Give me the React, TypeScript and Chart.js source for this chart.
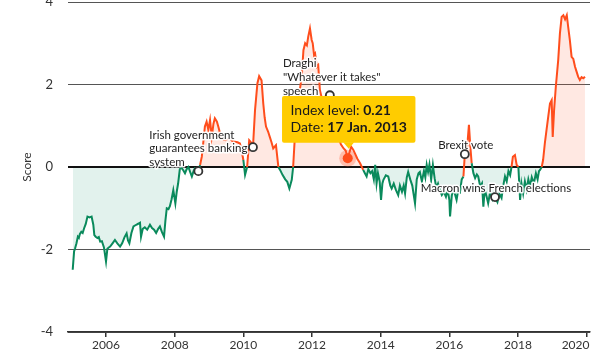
import React, { useEffect, useRef } from "react";
import { Chart, registerables } from "chart.js";

Chart.register(...registerables);

// ---- data ----
const dates = [
  2005.03, 2005.07, 2005.10, 2005.14, 2005.18, 2005.21, 2005.24, 2005.28, 2005.32, 2005.36,
  2005.41, 2005.46, 2005.52, 2005.58, 2005.63, 2005.66, 2005.70, 2005.75, 2005.79, 2005.83,
  2005.88, 2005.94, 2006.00, 2006.04, 2006.08, 2006.12, 2006.19, 2006.26, 2006.33, 2006.41,
  2006.47, 2006.54, 2006.60, 2006.64, 2006.68, 2006.74, 2006.80, 2006.88, 2006.95, 2006.99,
  2007.02, 2007.07, 2007.13, 2007.20, 2007.28, 2007.34, 2007.40, 2007.46, 2007.52, 2007.57,
  2007.63, 2007.69, 2007.73, 2007.77, 2007.82, 2007.86, 2007.91, 2007.96, 2008.02, 2008.06,
  2008.10, 2008.15, 2008.20, 2008.25, 2008.30, 2008.35, 2008.40, 2008.45, 2008.50, 2008.55,
  2008.59, 2008.64, 2008.69, 2008.74, 2008.79, 2008.83, 2008.88, 2008.93, 2008.98, 2009.03,
  2009.08, 2009.13, 2009.17, 2009.23, 2009.28, 2009.32, 2009.37, 2009.47, 2009.54, 2009.61,
  2009.68, 2009.76, 2009.83, 2009.90, 2009.95, 2010.00, 2010.05, 2010.11, 2010.17, 2010.22,
  2010.28, 2010.34, 2010.41, 2010.46, 2010.53, 2010.58, 2010.62, 2010.66, 2010.72, 2010.77,
  2010.82, 2010.87, 2010.95, 2011.02, 2011.07, 2011.14, 2011.22, 2011.28, 2011.34, 2011.38,
  2011.41, 2011.45, 2011.50, 2011.55, 2011.60, 2011.65, 2011.70, 2011.75, 2011.80, 2011.85,
  2011.89, 2011.94, 2011.99, 2012.02, 2012.06, 2012.09, 2012.14, 2012.18, 2012.23, 2012.30,
  2012.38, 2012.45, 2012.52, 2012.60, 2012.68, 2012.76, 2012.84, 2012.92, 2012.98, 2013.04,
  2013.09, 2013.14, 2013.20, 2013.25, 2013.32, 2013.40, 2013.49, 2013.54, 2013.59, 2013.64,
  2013.70, 2013.75, 2013.80, 2013.84, 2013.88, 2013.92, 2013.97, 2014.01, 2014.05, 2014.08,
  2014.15, 2014.22, 2014.28, 2014.32, 2014.38, 2014.44, 2014.51, 2014.56, 2014.62, 2014.67,
  2014.71, 2014.76, 2014.80, 2014.86, 2014.92, 2015.00, 2015.05, 2015.10, 2015.14, 2015.20,
  2015.26, 2015.30, 2015.34, 2015.38, 2015.42, 2015.47, 2015.52, 2015.57, 2015.62, 2015.67,
  2015.72, 2015.78, 2015.84, 2015.90, 2015.95, 2016.00, 2016.02, 2016.07, 2016.11, 2016.16,
  2016.21, 2016.26, 2016.31, 2016.36, 2016.41, 2016.45, 2016.51, 2016.57, 2016.61, 2016.65,
  2016.70, 2016.75, 2016.80, 2016.84, 2016.90, 2016.95, 2016.99, 2017.03, 2017.08, 2017.13,
  2017.19, 2017.26, 2017.33, 2017.40, 2017.46, 2017.52, 2017.57, 2017.62, 2017.67, 2017.72,
  2017.77, 2017.81, 2017.85, 2017.91, 2017.96, 2018.01, 2018.06, 2018.10, 2018.15, 2018.20,
  2018.25, 2018.30, 2018.35, 2018.40, 2018.46, 2018.52, 2018.57, 2018.61, 2018.64, 2018.69,
  2018.73, 2018.78, 2018.83, 2018.88, 2018.93, 2018.98, 2019.01, 2019.05, 2019.10, 2019.17,
  2019.22, 2019.27, 2019.32, 2019.37, 2019.42, 2019.46, 2019.51, 2019.56, 2019.61, 2019.66,
  2019.71, 2019.75, 2019.80, 2019.85, 2019.90, 2019.95,
];

const values = [
  -2.49, -2.05, -1.97, -1.85, -1.69, -1.72, -1.62, -1.57, -1.60, -1.49,
  -1.38, -1.20, -1.22, -1.20, -1.40, -1.65, -1.69, -1.72, -1.70, -1.81,
  -1.80, -1.95, -2.29, -1.98, -1.95, -1.93, -1.85, -1.77, -1.85, -1.93,
  -1.85, -1.70, -1.61, -1.78, -1.85, -1.60, -1.44, -1.40, -1.37, -1.35,
  -1.69, -1.50, -1.46, -1.52, -1.40, -1.48, -1.52, -1.60, -1.50, -1.44,
  -1.58, -1.69, -1.30, -1.00, -1.02, -0.95, -0.78, -0.56, -0.88, -0.60,
  -0.40, -0.05, -0.02, -0.08, -0.15, -0.05, 0.00, -0.12, -0.23, -0.10,
  -0.03, -0.06, -0.10, 0.05, 0.25, 0.57, 0.98, 1.10, 0.90, 1.14,
  0.73, 1.05, 1.18, 1.10, 0.95, 0.82, 0.69, 0.65, 0.68, 0.69,
  0.63, 0.61, 0.60, 0.57, 0.40, 0.17, -0.19, 0.00, 0.65, 0.60,
  0.48, 1.38, 2.03, 2.20, 2.10, 1.54, 1.20, 0.98, 0.86, 0.73,
  0.60, 0.45, 0.53, 0.00, -0.07, -0.19, -0.30, -0.36, -0.52, -0.40,
  -0.31, 0.00, 0.73, 1.22, 1.62, 1.90, 2.19, 2.83, 3.00, 2.95,
  3.16, 3.36, 3.08, 3.00, 2.71, 2.75, 2.43, 2.47, 1.86, 1.62,
  1.70, 1.78, 1.74, 1.35, 1.00, 0.75, 0.55, 0.45, 0.40, 0.21,
  0.35, 0.49, 0.42, 0.33, 0.20, 0.09, -0.07, -0.15, -0.23, -0.05,
  -0.15, -0.10, -0.30, 0.05, -0.40, -0.15, -0.35, -0.80, -0.40, -0.31,
  -0.20, -0.23, -0.45, -0.52, -0.40, -0.55, -0.68, -0.45, -0.60, -0.45,
  -0.64, -0.25, -0.12, -0.30, -0.45, -0.88, -0.30, -0.15, -0.12, -0.35,
  -0.10, -0.25, 0.05, -0.12, 0.06, -0.31, 0.05, -0.27, -0.50, -0.40,
  -0.55, -0.68, -0.60, -0.72, -0.55, -0.80, -1.20, -0.70, -0.56, -0.65,
  -0.80, -0.55, -0.60, -0.30, -0.23, 0.31, 0.40, 1.02, 0.50, 0.09,
  -0.15, -0.27, -0.18, -0.23, -0.48, -0.40, -0.96, -0.55, -0.70, -0.88,
  -0.60, -0.80, -0.73, -0.85, -0.65, -0.75, -0.45, -0.23, -0.35, -0.10,
  -0.20, 0.00, 0.25, 0.29, 0.05, 0.00, -0.80, -0.40, -0.64, -0.35,
  -0.55, -0.30, -0.48, -0.25, -0.40, -0.15, -0.30, -0.10, -0.07, 0.00,
  0.17, 0.57, 0.90, 1.22, 1.54, 1.62, 0.73, 1.38, 1.94, 2.59,
  3.24, 3.64, 3.68, 3.58, 3.68, 3.40, 3.07, 2.67, 2.62, 2.43,
  2.30, 2.19, 2.11, 2.18, 2.15, 2.19,
];

const xTickYears = [2006, 2008, 2010, 2012, 2014, 2016, 2018, 2020];
const yTickValues = [-4, -2, 0, 2, 4];
const yAxisTitle = "Score";

const eventDates = [2008.69, 2010.28, 2012.52, 2016.45, 2017.33];
const eventValues = [-0.1, 0.48, 1.74, 0.31, -0.73];
const eventLabels: string[][] = [
  ["Irish government", "guarantees banking", "system"],
  [],
  ["Draghi", "\"Whatever it takes\"", "speech"],
  ["Brexit vote"],
  ["Macron wins French elections"],
];

const tooltipDate = 2013.04;
const tooltipValue = 0.21;
const tooltipDateLabel = "17 Jan. 2013";

// ---- styles ----
const FONT = "Lato, 'Open Sans', sans-serif";
const RED = "#ff4d1c";
const GREEN = "#0a8a5c";
const RED_FILL = "rgba(255, 90, 50, 0.14)";
const GREEN_FILL = "rgba(20, 150, 105, 0.12)";
const labelPlacement = [
  { align: "left", dx: -49, dy: -36, lh: 13.5 },
  null,
  { align: "left", dx: -47, dy: -32, lh: 14 },
  { align: "center", dx: 1, dy: -9, lh: 13 },
  { align: "center", dx: 1, dy: -9, lh: 13 },
];

function haloText(ctx: CanvasRenderingContext2D, text: string, x: number, y: number) {
  ctx.lineJoin = "round";
  ctx.strokeStyle = "rgba(255,255,255,0.95)";
  ctx.lineWidth = 3;
  ctx.strokeText(text, x, y);
  ctx.fillStyle = "#1e1e1e";
  ctx.fillText(text, x, y);
}

const overlayPlugin = {
  id: "overlay",
  beforeDatasetDraw(chart: any) {
    const { ctx, chartArea, scales } = chart;
    const py = scales.y.getPixelForValue(0);
    ctx.save();
    ctx.strokeStyle = "#111";
    ctx.lineWidth = 2;
    ctx.beginPath();
    ctx.moveTo(chartArea.left, py);
    ctx.lineTo(chartArea.right, py);
    ctx.stroke();
    ctx.restore();
  },
  afterDatasetsDraw(chart: any) {
    const { ctx, scales, width } = chart;
    const xs = scales.x;
    const ys = scales.y;
    ctx.save();

    // x tick labels
    ctx.font = `12px ${FONT}`;
    ctx.fillStyle = "#333";
    ctx.textAlign = "center";
    ctx.textBaseline = "middle";
    xTickYears.forEach((yr) => {
      const label = String(yr);
      const w = ctx.measureText(label).width;
      let x = xs.getPixelForValue(yr);
      if (x + w / 2 > width - 6.5) x = width - 6.5 - w / 2;
      ctx.fillText(label, x, xs.bottom - 12);
    });

    // event markers and labels
    ctx.font = `11.5px ${FONT}`;
    eventDates.forEach((d, i) => {
      const cx = xs.getPixelForValue(d);
      const cy = ys.getPixelForValue(eventValues[i]);
      const pl = labelPlacement[i];
      const lines = eventLabels[i];
      if (pl && lines.length) {
        ctx.textAlign = pl.align;
        ctx.textBaseline = "middle";
        lines.forEach((ln, k) => {
          haloText(ctx, ln, cx + pl.dx, cy + pl.dy + k * pl.lh);
        });
      }
      ctx.beginPath();
      ctx.arc(cx, cy, 4, 0, Math.PI * 2);
      ctx.fillStyle = "#fff";
      ctx.fill();
      ctx.lineWidth = 1.8;
      ctx.strokeStyle = "#333";
      ctx.stroke();
    });

    // highlighted point + tooltip
    const px = xs.getPixelForValue(tooltipDate);
    const py = ys.getPixelForValue(tooltipValue);
    ctx.beginPath();
    ctx.arc(px, py, 8.5, 0, Math.PI * 2);
    ctx.fillStyle = "rgba(255, 90, 50, 0.3)";
    ctx.fill();
    ctx.beginPath();
    ctx.arc(px, py, 5, 0, Math.PI * 2);
    ctx.fillStyle = RED;
    ctx.fill();

    const a1 = "Index level: ";
    const b1 = tooltipValue.toFixed(2);
    const a2 = "Date: ";
    const b2 = tooltipDateLabel;
    const normal = `14px ${FONT}`;
    const bold = `bold 14px ${FONT}`;
    ctx.font = normal;
    const wa1 = ctx.measureText(a1).width;
    const wa2 = ctx.measureText(a2).width;
    ctx.font = bold;
    const wb1 = ctx.measureText(b1).width;
    const wb2 = ctx.measureText(b2).width;
    const boxW = Math.max(wa1 + wb1, wa2 + wb2) + 17;
    const boxH = 46.7;
    const boxBottom = py - 15.7;
    const boxTop = boxBottom - boxH;
    const boxLeft = px + 1 - boxW / 2;
    ctx.fillStyle = "#ffcc00";
    ctx.beginPath();
    ctx.roundRect(boxLeft, boxTop, boxW, boxH, 2);
    ctx.fill();
    ctx.beginPath();
    ctx.moveTo(px - 4.5, boxBottom - 0.5);
    ctx.lineTo(px + 1, py - 9.5);
    ctx.lineTo(px + 6.5, boxBottom - 0.5);
    ctx.closePath();
    ctx.fill();

    ctx.fillStyle = "#1a1a1a";
    ctx.textAlign = "left";
    ctx.textBaseline = "alphabetic";
    const tx = boxLeft + 8.5;
    ctx.font = normal;
    ctx.fillText(a1, tx, boxTop + 19.4);
    ctx.fillText(a2, tx, boxTop + 36);
    ctx.font = bold;
    ctx.fillText(b1, tx + wa1, boxTop + 19.4);
    ctx.fillText(b2, tx + wa2, boxTop + 36);

    ctx.restore();
  },
};

export default function App() {
  const canvasRef = useRef<HTMLCanvasElement | null>(null);

  useEffect(() => {
    document.body.style.margin = "0";
    const canvas = canvasRef.current;
    if (!canvas) return;
    const points = dates.map((d, i) => ({ x: d, y: values[i] }));

    const chart = new Chart(canvas, {
      type: "line",
      data: {
        datasets: [
          {
            data: points,
            borderColor: RED,
            borderWidth: 2,
            pointRadius: 0,
            pointHoverRadius: 0,
            tension: 0,
            fill: { target: { value: 0 }, above: RED_FILL, below: GREEN_FILL },
            segment: {
              borderColor: (ctx: any) =>
                (ctx.p0.parsed.y + ctx.p1.parsed.y) / 2 >= 0 ? RED : GREEN,
            },
          },
        ],
      },
      options: {
        responsive: false,
        animation: false,
        events: [],
        layout: { padding: { left: 0, right: 6, top: 2, bottom: 0 } },
        plugins: {
          legend: { display: false },
          tooltip: { enabled: false },
        },
        scales: {
          x: {
            type: "linear",
            min: 2004.893,
            max: 2020.096,
            afterBuildTicks: (scale: any) => {
              scale.ticks = xTickYears.map((v) => ({ value: v }));
            },
            afterFit: (scale: any) => {
              scale.height = 25;
              scale.paddingLeft = 0;
              scale.paddingRight = 0;
            },
            ticks: { display: false },
            grid: {
              drawOnChartArea: false,
              drawTicks: true,
              tickLength: 5,
              color: "#333",
              lineWidth: 1.5,
            },
            border: { display: true, color: "#333", width: 1.5 },
          },
          y: {
            type: "linear",
            min: -4,
            max: 4,
            afterBuildTicks: (scale: any) => {
              scale.ticks = yTickValues.map((v) => ({ value: v }));
            },
            afterFit: (scale: any) => {
              scale.width = 68;
              scale.paddingTop = 0;
              scale.paddingBottom = 0;
            },
            ticks: {
              padding: 15,
              color: "#333",
              font: { family: FONT, size: 13 },
            },
            grid: {
              drawTicks: false,
              color: (ctx: any) => (ctx.tick && ctx.tick.value === 0 ? "#111" : "#555"),
              lineWidth: (ctx: any) => (ctx.tick && ctx.tick.value === 0 ? 2 : 1),
            },
            border: { display: false },
            title: {
              display: true,
              text: yAxisTitle,
              color: "#333",
              font: { family: FONT, size: 12 },
              padding: { top: 19.5, bottom: 0 },
            },
          },
        },
      },
      plugins: [overlayPlugin],
    });

    return () => chart.destroy();
  }, []);

  return (
    <div style={{ width: 596, height: 357 }}>
      <canvas
        ref={canvasRef}
        width={596}
        height={357}
        style={{ display: "block", width: 596, height: 357 }}
      />
    </div>
  );
}
